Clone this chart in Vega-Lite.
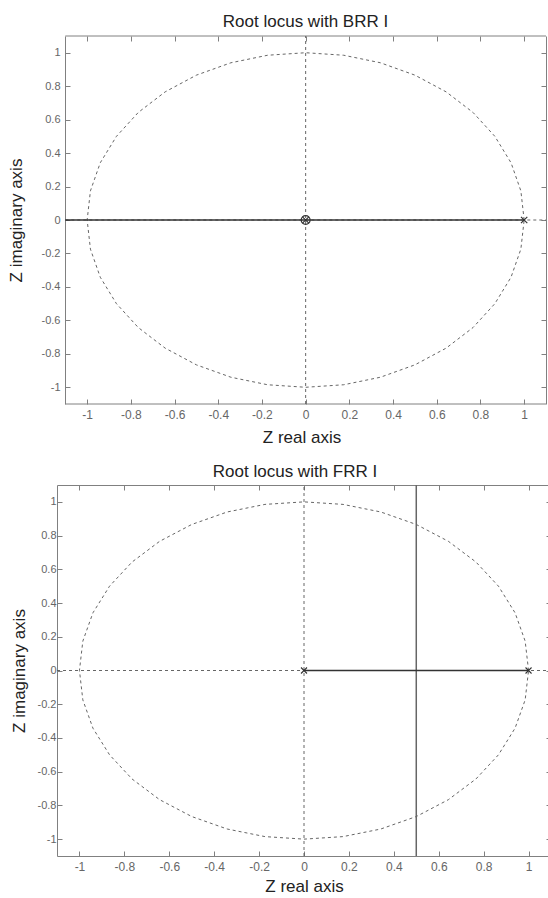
{
  "$schema": "https://vega.github.io/schema/vega-lite/v6.json",
  "padding": {"left": 7, "top": 12, "right": 0, "bottom": 0},
  "spacing": 18,
  "datasets": {
    "circle": [
      {"i": 0, "x": 1, "y": 0}, {"i": 1, "x": 0.985, "y": 0.174}, {"i": 2, "x": 0.94, "y": 0.342},
      {"i": 3, "x": 0.866, "y": 0.5}, {"i": 4, "x": 0.766, "y": 0.643}, {"i": 5, "x": 0.643, "y": 0.766},
      {"i": 6, "x": 0.5, "y": 0.866}, {"i": 7, "x": 0.342, "y": 0.94}, {"i": 8, "x": 0.174, "y": 0.985},
      {"i": 9, "x": 0, "y": 1}, {"i": 10, "x": -0.174, "y": 0.985}, {"i": 11, "x": -0.342, "y": 0.94},
      {"i": 12, "x": -0.5, "y": 0.866}, {"i": 13, "x": -0.643, "y": 0.766}, {"i": 14, "x": -0.766, "y": 0.643},
      {"i": 15, "x": -0.866, "y": 0.5}, {"i": 16, "x": -0.94, "y": 0.342}, {"i": 17, "x": -0.985, "y": 0.174},
      {"i": 18, "x": -1, "y": 0}, {"i": 19, "x": -0.985, "y": -0.174}, {"i": 20, "x": -0.94, "y": -0.342},
      {"i": 21, "x": -0.866, "y": -0.5}, {"i": 22, "x": -0.766, "y": -0.643}, {"i": 23, "x": -0.643, "y": -0.766},
      {"i": 24, "x": -0.5, "y": -0.866}, {"i": 25, "x": -0.342, "y": -0.94}, {"i": 26, "x": -0.174, "y": -0.985},
      {"i": 27, "x": 0, "y": -1}, {"i": 28, "x": 0.174, "y": -0.985}, {"i": 29, "x": 0.342, "y": -0.94},
      {"i": 30, "x": 0.5, "y": -0.866}, {"i": 31, "x": 0.643, "y": -0.766}, {"i": 32, "x": 0.766, "y": -0.643},
      {"i": 33, "x": 0.866, "y": -0.5}, {"i": 34, "x": 0.94, "y": -0.342}, {"i": 35, "x": 0.985, "y": -0.174},
      {"i": 36, "x": 1, "y": 0}
    ],
    "topRules": [
      {"k": "frame", "x": -1.1, "x2": 1.1, "y": 1.1, "y2": 1.1},
      {"k": "frame", "x": -1.1, "x2": 1.1, "y": -1.1, "y2": -1.1},
      {"k": "dash", "x": 0, "x2": 0, "y": -1.1, "y2": 1.1},
      {"k": "dash", "x": -1.1, "x2": 1.1, "y": 0, "y2": 0},
      {"k": "solid", "x": -1.1, "x2": 1, "y": 0, "y2": 0}
    ],
    "botRules": [
      {"k": "dash", "x": 0, "x2": 0, "y": -1.1, "y2": 1.1},
      {"k": "dash", "x": -1.1, "x2": 1.1, "y": 0, "y2": 0},
      {"k": "solid", "x": 0, "x2": 1, "y": 0, "y2": 0},
      {"k": "vert", "x": 0.5, "x2": 0.5, "y": -1.1, "y2": 1.1}
    ],
    "topMarks": [
      {"m": "o", "x": 0, "y": 0},
      {"m": "x", "x": 0, "y": 0},
      {"m": "x", "x": 1, "y": 0}
    ],
    "botMarks": [
      {"m": "x", "x": 0, "y": 0},
      {"m": "x", "x": 1, "y": 0}
    ]
  },
  "config": {
    "font": "Liberation Sans",
    "view": {"stroke": null},
    "title": {"font": "Liberation Sans", "fontSize": 17, "fontWeight": "normal", "color": "#222222"},
    "axis": {
      "grid": false,
      "domainColor": "#808080",
      "domainWidth": 1,
      "tickColor": "#808080",
      "tickSize": -5,
      "labelFont": "Liberation Sans",
      "labelFontSize": 11,
      "labelColor": "#666666",
      "labelFlush": false,
      "labelOverlap": false,
      "titleFont": "Liberation Sans",
      "titleFontSize": 17,
      "titleFontWeight": "normal",
      "titleColor": "#222222"
    }
  },
  "vconcat": [
    {
      "width": 489,
      "height": 368,
      "title": {"text": "Root locus with BRR I", "dx": 4, "offset": -8, "baseline": "alphabetic"},
      "resolve": {"axis": {"x": "independent", "y": "independent"}},
      "layer": [
        {
          "data": {"name": "circle"},
          "mark": {"type": "line", "color": "#555555", "strokeWidth": 0.9, "strokeDash": [3, 3]},
          "encoding": {
            "x": {"field": "x", "type": "quantitative",
              "scale": {"domain": [-1.138, 1.1], "nice": false, "zero": false},
              "axis": {"orient": "bottom", "title": "Z real axis", "values": [-1, -0.8, -0.6, -0.4, -0.2, 0, 0.2, 0.4, 0.6, 0.8, 1],
                "domain": false, "format": "~g", "labelExpr": "replace(datum.label, '\u2212', '-')",
                "labelFontSize": 12, "labelPadding": 10, "titlePadding": 9}},
            "y": {"field": "y", "type": "quantitative",
              "scale": {"domain": [-1.1, 1.1], "nice": false, "zero": false},
              "axis": {"orient": "left", "title": "Z imaginary axis", "values": [-1, -0.8, -0.6, -0.4, -0.2, 0, 0.2, 0.4, 0.6, 0.8, 1],
                "domain": true, "offset": -8, "format": "~g", "labelExpr": "replace(datum.label, '\u2212', '-')",
                "labelPadding": 10, "titlePadding": 16}},
            "order": {"field": "i", "type": "quantitative"}
          }
        },
        {
          "data": {"name": "topRules"},
          "transform": [{"filter": "datum.k == 'frame'"}],
          "mark": {"type": "rule", "color": "#808080", "strokeWidth": 1},
          "encoding": {
            "x": {"field": "x", "type": "quantitative",
              "axis": {"orient": "top", "title": null, "labels": false, "domain": false, "values": [-1, -0.8, -0.6, -0.4, -0.2, 0, 0.2, 0.4, 0.6, 0.8, 1]}},
            "x2": {"field": "x2"},
            "y": {"field": "y", "type": "quantitative",
              "axis": {"orient": "right", "title": null, "labels": false, "domain": true, "values": [-1, -0.8, -0.6, -0.4, -0.2, 0, 0.2, 0.4, 0.6, 0.8, 1]}},
            "y2": {"field": "y2"}
          }
        },
        {
          "data": {"name": "topRules"},
          "transform": [{"filter": "datum.k == 'dash'"}],
          "mark": {"type": "rule", "color": "#555555", "strokeWidth": 0.9, "strokeDash": [3, 3]},
          "encoding": {
            "x": {"field": "x", "type": "quantitative", "axis": null},
            "x2": {"field": "x2"},
            "y": {"field": "y", "type": "quantitative", "axis": null},
            "y2": {"field": "y2"}
          }
        },
        {
          "data": {"name": "topRules"},
          "transform": [{"filter": "datum.k == 'solid'"}],
          "mark": {"type": "rule", "color": "#333333", "strokeWidth": 1.3},
          "encoding": {
            "x": {"field": "x", "type": "quantitative", "axis": null},
            "x2": {"field": "x2"},
            "y": {"field": "y", "type": "quantitative", "axis": null},
            "y2": {"field": "y2"}
          }
        },
        {
          "data": {"name": "topMarks"},
          "transform": [{"filter": "datum.m == 'o'"}],
          "mark": {"type": "point", "shape": "circle", "size": 80, "filled": false, "stroke": "#333333", "strokeWidth": 1.2, "opacity": 1},
          "encoding": {
            "x": {"field": "x", "type": "quantitative", "axis": null},
            "y": {"field": "y", "type": "quantitative", "axis": null}
          }
        },
        {
          "data": {"name": "topMarks"},
          "transform": [{"filter": "datum.m == 'x'"}],
          "mark": {"type": "point", "shape": "M-1,-1L1,1M-1,1L1,-1", "size": 40, "filled": false, "stroke": "#333333", "strokeWidth": 1.2, "opacity": 1},
          "encoding": {
            "x": {"field": "x", "type": "quantitative", "axis": null},
            "y": {"field": "y", "type": "quantitative", "axis": null}
          }
        }
      ]
    },
    {
      "width": 494,
      "height": 371,
      "title": {"text": "Root locus with FRR I", "dx": -9, "offset": -10, "baseline": "alphabetic"},
      "resolve": {"axis": {"x": "independent", "y": "independent"}},
      "layer": [
        {
          "data": {"name": "circle"},
          "mark": {"type": "line", "color": "#555555", "strokeWidth": 0.9, "strokeDash": [3, 3]},
          "encoding": {
            "x": {"field": "x", "type": "quantitative",
              "scale": {"domain": [-1.1, 1.1], "nice": false, "zero": false},
              "axis": {"orient": "bottom", "title": "Z real axis", "values": [-1, -0.8, -0.6, -0.4, -0.2, 0, 0.2, 0.4, 0.6, 0.8, 1],
                "domain": true, "format": "~g", "labelExpr": "replace(datum.label, '\u2212', '-')",
                "labelFontSize": 12, "labelPadding": 10, "titlePadding": 6}},
            "y": {"field": "y", "type": "quantitative",
              "scale": {"domain": [-1.1, 1.1], "nice": false, "zero": false},
              "axis": {"orient": "left", "title": "Z imaginary axis", "values": [-1, -0.8, -0.6, -0.4, -0.2, 0, 0.2, 0.4, 0.6, 0.8, 1],
                "domain": true, "format": "~g", "labelExpr": "replace(datum.label, '\u2212', '-')",
                "labelPadding": 6, "titlePadding": 9}},
            "order": {"field": "i", "type": "quantitative"}
          }
        },
        {
          "data": {"name": "botRules"},
          "transform": [{"filter": "datum.k == 'dash'"}],
          "mark": {"type": "rule", "color": "#555555", "strokeWidth": 0.9, "strokeDash": [3, 3]},
          "encoding": {
            "x": {"field": "x", "type": "quantitative",
              "axis": {"orient": "top", "title": null, "labels": false, "domain": true, "values": [-1, -0.8, -0.6, -0.4, -0.2, 0, 0.2, 0.4, 0.6, 0.8, 1]}},
            "x2": {"field": "x2"},
            "y": {"field": "y", "type": "quantitative",
              "axis": {"orient": "right", "title": null, "labels": false, "domain": true, "values": [-1, -0.8, -0.6, -0.4, -0.2, 0, 0.2, 0.4, 0.6, 0.8, 1]}},
            "y2": {"field": "y2"}
          }
        },
        {
          "data": {"name": "botRules"},
          "transform": [{"filter": "datum.k == 'vert'"}],
          "mark": {"type": "rule", "color": "#666666", "strokeWidth": 1.5},
          "encoding": {
            "x": {"field": "x", "type": "quantitative", "axis": null},
            "x2": {"field": "x2"},
            "y": {"field": "y", "type": "quantitative", "axis": null},
            "y2": {"field": "y2"}
          }
        },
        {
          "data": {"name": "botRules"},
          "transform": [{"filter": "datum.k == 'solid'"}],
          "mark": {"type": "rule", "color": "#333333", "strokeWidth": 1.3},
          "encoding": {
            "x": {"field": "x", "type": "quantitative", "axis": null},
            "x2": {"field": "x2"},
            "y": {"field": "y", "type": "quantitative", "axis": null},
            "y2": {"field": "y2"}
          }
        },
        {
          "data": {"name": "botMarks"},
          "mark": {"type": "point", "shape": "M-1,-1L1,1M-1,1L1,-1", "size": 36, "filled": false, "stroke": "#333333", "strokeWidth": 1.1, "opacity": 1},
          "encoding": {
            "x": {"field": "x", "type": "quantitative", "axis": null},
            "y": {"field": "y", "type": "quantitative", "axis": null}
          }
        }
      ]
    }
  ]
}
